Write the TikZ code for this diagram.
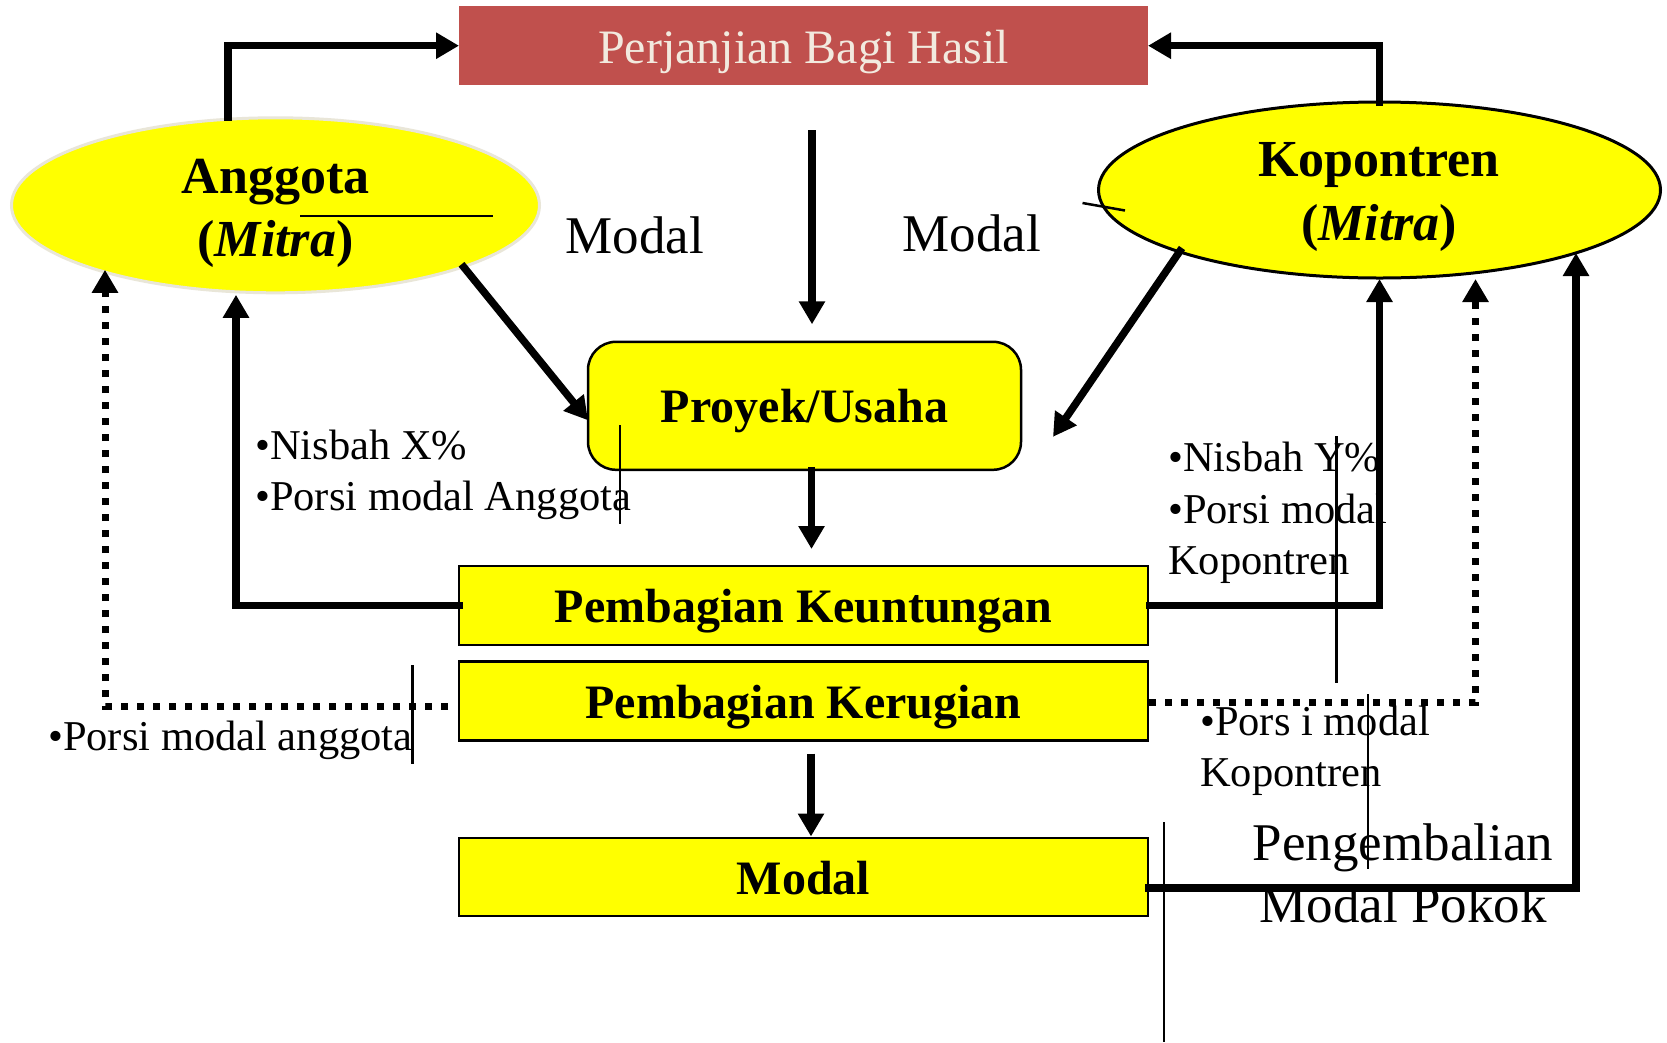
\documentclass[tikz,border=0pt]{standalone}
\usepackage{fontspec}
\setmainfont{Liberation Serif}
\usetikzlibrary{arrows.meta,calc,shapes.geometric}
\definecolor{dealred}{HTML}{C0504D}
\definecolor{dealtext}{HTML}{F2EADF}
\definecolor{boxyellow}{HTML}{FFFF00}
\definecolor{paleedge}{HTML}{E9E6D8}
\newcommand{\setfs}[1]{\fontsize{#1pt}{#1pt}\selectfont}
\begin{document}
\begin{tikzpicture}[x=1pt,y=-1pt,
  flow/.style={line width=7.5pt,-{Triangle[length=23pt,width=25pt]}},
  dotflow/.style={line width=7pt,dash pattern=on 7pt off 9pt,-{Triangle[length=23pt,width=25pt]}},
  thinrule/.style={line width=2.5pt},
  stage/.style={draw=black,line width=2.5pt,fill=boxyellow,minimum width=689pt,
    minimum height=79pt,inner sep=0pt,outer sep=0pt,text height=34pt,text depth=0pt,
    font=\bfseries\setfs{48}},
  partner/.style={ellipse,fill=boxyellow,line width=3pt,inner sep=0pt,outer sep=0pt},
  ptext/.style={anchor=base,inner sep=0pt,font=\bfseries\setfs{52}},
  note/.style={anchor=base west,inner sep=0pt,font=\setfs{42.5}},
  big/.style={anchor=base,inner sep=0pt,font=\setfs{53}}
]
\useasboundingbox (0,0) rectangle (1667,1042);
\fill[white] (0,0) rectangle (1667,1042);

% agreement banner
\node[fill=dealred,minimum width=689pt,minimum height=79pt,inner sep=0pt,outer sep=0pt,
  text=dealtext,font=\setfs{48},text height=35pt,text depth=0pt] (deal) at (803.5,45.7)
  {Perjanjian Bagi Hasil};

% the two partners
\node[partner,draw=paleedge,minimum width=528pt,minimum height=175pt] (ang) at (275.5,205.3) {};
\node[partner,draw=black,minimum width=562pt,minimum height=176pt] (kop) at (1379.5,190) {};
\node[ptext] (angname) at (275.8,193.3) {Anggota};
\node[ptext] (angrole) at (275.5,256.7) {(\textit{Mitra})};
\node[ptext] (kopname) at (1379,176.7) {Kopontren};
\node[ptext] (koprole) at (1379,240) {(\textit{Mitra})};

% project and outcome boxes
\node[draw=black,line width=2.5pt,fill=boxyellow,rounded corners=28pt,minimum width=433pt,
  minimum height=128pt,inner sep=0pt,outer sep=0pt,text height=33pt,text depth=0pt,
  font=\bfseries\setfs{48}] (proj) at (804.5,405.8) {Proyek/Usaha};
\node[stage] (pk) at (803.5,605.5) {Pembagian Keuntungan};
\node[stage] (pkr) at (803.5,701) {Pembagian Kerugian};
\node[stage,minimum height=78pt] (modal) at (803.5,877) {Modal};

% labels
\node[big] (modalA) at (635,253.3) {Modal};
\node[big] (modalB) at (971.7,251.7) {Modal};
\node[note] (nx) at (255,459) {•Nisbah X\%};
\node[note] (nxa) at (255,510) {•Porsi modal Anggota};
\node[note] (na) at (48,750) {•Porsi modal anggota};
\node[note] (ny) at (1168,471.7) {•Nisbah Y\%};
\node[note] (nyb) at (1168,523) {•Porsi modal};
\node[note] (nyc) at (1168,574) {Kopontren};
\node[note] (nz) at (1200,735) {•Pors i modal};
\node[note] (nzb) at (1200,786) {Kopontren};
\node[big] (ret1) at (1403,860) {Pengembalian};
\node[big] (ret2) at (1403.3,922.7) {Modal Pokok};

% partners enter the agreement
\draw[flow] ([xshift=-47.5pt,yshift=-3pt]ang.north) |- (deal.west);
\draw[flow] ([yshift=-4pt]kop.north) |- (deal.east);

% capital flows into the project
\draw[flow] ($(ang.center)+(186,59)$) -- ([yshift=-14.5pt]proj.west);
\draw[flow] ($(kop.center)+(-197.5,58)$) -- ($(proj.east)+(32,31)$);
\draw[flow] ([xshift=8.5pt,yshift=-45pt]deal.south) -- ([xshift=7.5pt,yshift=17.5pt]proj.north);
\draw[flow] ([xshift=7pt,yshift=3pt]proj.south) -- ([xshift=8pt,yshift=17pt]pk.north);
\draw[flow] ([xshift=7.5pt,yshift=-13pt]pkr.south) -- ([xshift=7.5pt,yshift=1.5pt]modal.north);

% profit and loss shares back to the partners
\draw[flow] ([xshift=4pt]pk.west) -| ([xshift=-39.5pt,yshift=-2pt]ang.south);
\draw[dotflow] ([xshift=-11pt,yshift=-5pt]pkr.west) -| ($(ang.south)+(-170.5,-23)$);
\draw[flow] ([xshift=-2pt]pk.east) -| ([yshift=-1pt]kop.south);
\draw[dotflow] ([xshift=1pt,yshift=-1pt]pkr.east) -| ([xshift=96pt,yshift=-1pt]kop.south);
\draw[flow] ([xshift=-3pt,yshift=-11pt]modal.east) -| ($(kop.center)+(196.5,63)$);

% thin rules
\draw[thinrule] (300,216) -- (493,216);
\draw[thinrule] (1082.5,203) -- (1125,210.5);
\draw[thinrule] (620,425) -- (620,524);
\draw[thinrule] (412.7,665) -- (412.7,764);
\draw[thinrule] (1336.5,436) -- (1336.5,683);
\draw[thinrule] (1368,694) -- (1368,869);
\draw[thinrule] (1164,822) -- (1164,1042);
\end{tikzpicture}
\end{document}
